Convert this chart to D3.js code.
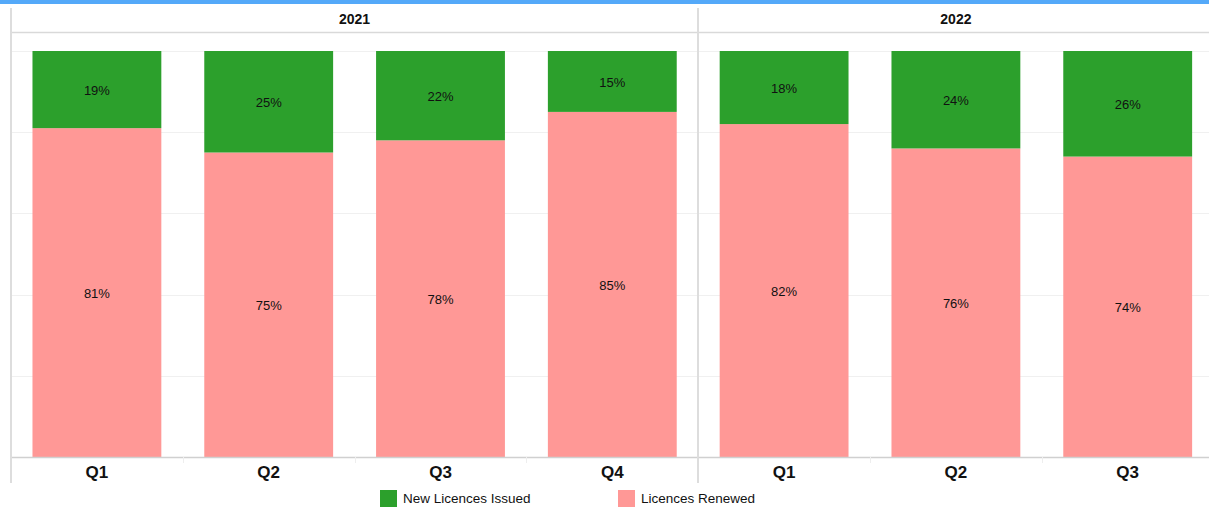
<!DOCTYPE html>
<html>
<head>
<meta charset="utf-8">
<script src="https://cdn.jsdelivr.net/npm/d3@7"></script>
<style>
  html, body { margin: 0; padding: 0; background: #fff; }
  svg { display: block; }
</style>
</head>
<body>
<div id="chart"></div>
<script>
// Licence activity share by quarter, grouped by year
const years = ["2021", "2022"];
const quarters2021 = ["Q1", "Q2", "Q3", "Q4"];
const quarters2022 = ["Q1", "Q2", "Q3"];
const newIssued2021 = [19, 25, 22, 15];
const renewed2021 = [81, 75, 78, 85];
const newIssued2022 = [18, 24, 26];
const renewed2022 = [82, 76, 74];
const seriesNames = ["New Licences Issued", "Licences Renewed"];
const yTicks = [0, 20, 40, 60, 80, 100];

const W = 1209, H = 509;
const colors = { "New Licences Issued": "#2ca02c", "Licences Renewed": "#ff9896" };

const svg = d3.select("#chart").append("svg").attr("width", W).attr("height", H);

const plotLeft = 11, step = 171.8;
const plotTop = 51, plotBottom = 457;
const headerTop = 8, headerLine = 32;

const panels = [
  { year: years[0], quarters: quarters2021, newIssued: newIssued2021, renewed: renewed2021 },
  { year: years[1], quarters: quarters2022, newIssued: newIssued2022, renewed: renewed2022 }
];

const y = d3.scaleLinear().domain([0, 100]).range([plotBottom, plotTop]);

// top accent strip
svg.append("rect").attr("x", 0).attr("y", 0).attr("width", W).attr("height", 4).attr("fill", "#54a9f9");

// horizontal gridlines
svg.append("g").selectAll("line").data(yTicks.slice(1)).join("line")
  .attr("x1", plotLeft).attr("x2", W)
  .attr("y1", d => Math.round(y(d)) + 0.5).attr("y2", d => Math.round(y(d)) + 0.5)
  .attr("stroke", "#f0f0f0").attr("stroke-width", 1);

// header divider
svg.append("line").attr("x1", plotLeft).attr("x2", W).attr("y1", headerLine + 0.5).attr("y2", headerLine + 0.5)
  .attr("stroke", "#d9d9d9").attr("stroke-width", 1.5);

let x0 = plotLeft;
panels.forEach((p, i) => {
  const width = step * p.quarters.length;
  const x = d3.scaleBand().domain(p.quarters).range([x0, x0 + width]).paddingInner(0.25).paddingOuter(0.125);

  const g = svg.append("g");

  // year header
  g.append("text").attr("x", x0 + width / 2).attr("y", 24)
    .attr("text-anchor", "middle").attr("font-family", "Liberation Sans, Arial, sans-serif")
    .attr("font-weight", "bold").attr("font-size", 14).attr("fill", "#111").text(p.year);

  const rows = p.quarters.map((q, j) => ({ q, "New Licences Issued": p.newIssued[j], "Licences Renewed": p.renewed[j] }));
  const stacked = d3.stack().keys(["Licences Renewed", "New Licences Issued"])(rows);

  stacked.forEach(layer => {
    g.append("g").selectAll("rect").data(layer).join("rect")
      .attr("x", d => x(d.data.q)).attr("width", x.bandwidth())
      .attr("y", d => y(d[1])).attr("height", d => y(d[0]) - y(d[1]))
      .attr("fill", colors[layer.key]);
    g.append("g").selectAll("text").data(layer).join("text")
      .attr("x", d => x(d.data.q) + x.bandwidth() / 2)
      .attr("y", d => (y(d[0]) + y(d[1])) / 2 + 5.5)
      .attr("text-anchor", "middle").attr("font-family", "Liberation Sans, Arial, sans-serif")
      .attr("font-size", 13).attr("fill", "#111")
      .text(d => (d[1] - d[0]) + "%");
  });

  // bottom axis with category labels
  const axis = d3.axisBottom(x).tickSize(0).tickPadding(9);
  const ag = g.append("g").attr("transform", `translate(0,${plotBottom})`).call(axis);
  ag.select(".domain").attr("stroke", "#d0d0d0").attr("stroke-width", 1.5);
  ag.selectAll("text").attr("font-family", "Liberation Sans, Arial, sans-serif")
    .attr("font-weight", "bold").attr("font-size", 17).attr("fill", "#111");

  // small separator ticks between categories
  g.append("g").selectAll("line").data(d3.range(1, p.quarters.length)).join("line")
    .attr("x1", j => Math.round(x0 + j * step) + 0.5).attr("x2", j => Math.round(x0 + j * step) + 0.5)
    .attr("y1", plotBottom).attr("y2", plotBottom + 6).attr("stroke", "#eeeeee");

  x0 += width;
  if (i < panels.length - 1) {
    svg.append("line").attr("x1", Math.round(x0)).attr("x2", Math.round(x0))
      .attr("y1", headerTop).attr("y2", 483).attr("stroke", "#dddddd").attr("stroke-width", 2);
  }
});

// left border
svg.append("line").attr("x1", plotLeft).attr("x2", plotLeft).attr("y1", headerTop).attr("y2", 483)
  .attr("stroke", "#dddddd").attr("stroke-width", 2);

// legend
const legendItems = [
  { name: seriesNames[0], x: 380 },
  { name: seriesNames[1], x: 618 }
];
const lg = svg.append("g").selectAll("g").data(legendItems).join("g")
  .attr("transform", d => `translate(${d.x},490)`);
lg.append("rect").attr("width", 17).attr("height", 17).attr("fill", d => colors[d.name]);
lg.append("text").attr("x", 23).attr("y", 13)
  .attr("font-family", "Liberation Sans, Arial, sans-serif").attr("font-size", 13.5).attr("fill", "#111")
  .text(d => d.name);
</script>
</body>
</html>
